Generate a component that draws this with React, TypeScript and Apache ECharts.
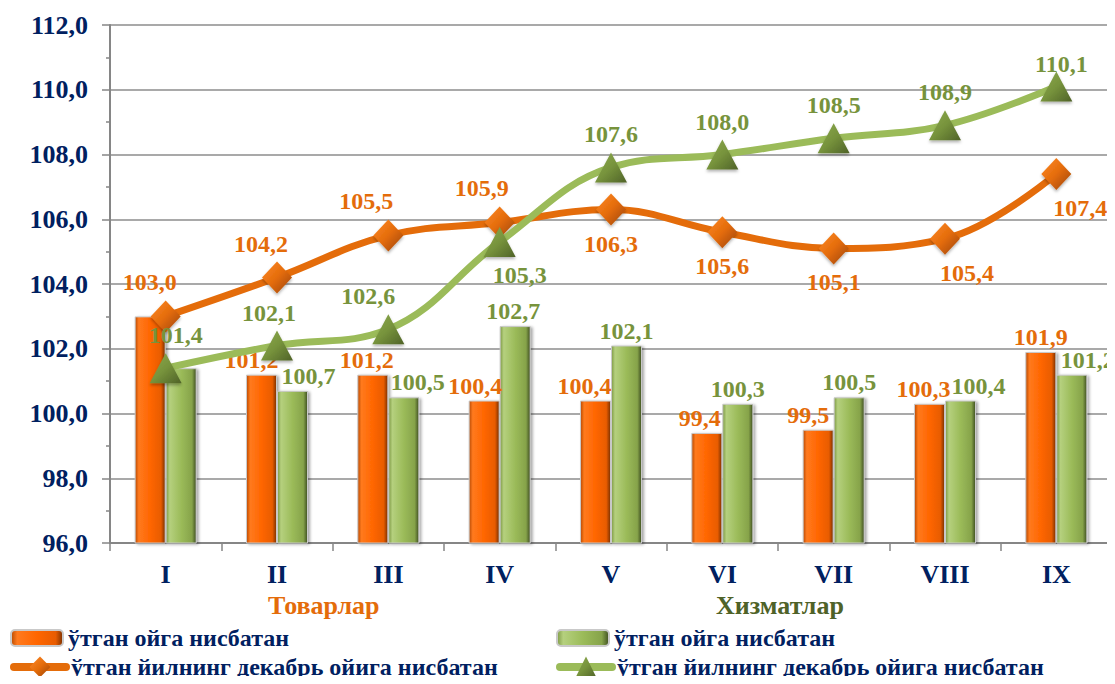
import React, { useEffect, useRef } from "react";
import * as echarts from "echarts";

const categories = ["I", "II", "III", "IV", "V", "VI", "VII", "VIII", "IX"];
const goodsMonthly = [103.0, 101.2, 101.2, 100.4, 100.4, 99.4, 99.5, 100.3, 101.9];
const servicesMonthly = [101.4, 100.7, 100.5, 102.7, 102.1, 100.3, 100.5, 100.4, 101.2];
const goodsDecember = [103.0, 104.2, 105.5, 105.9, 106.3, 105.6, 105.1, 105.4, 107.4];
const servicesDecember = [101.4, 102.1, 102.6, 105.3, 107.6, 108.0, 108.5, 108.9, 110.1];
const yMin = 96;
const yMax = 112;
const yStep = 2;

const groupGoods = "Товарлар";
const groupServices = "Хизматлар";
const nameMonthly = "ўтган ойга нисбатан";
const nameDecember = "ўтган йилнинг декабрь ойига нисбатан";

// label placement (style only)
const goodsBarDx = [0, -10, -6, -9, -11, -7, -10, -6, 0];
const goodsBarShow = [false, true, true, true, true, true, true, true, true];
const servBarDx = [0, 16, 14, -2, 0, 0, 0, 18, 16];
const servBarShow = [false, true, true, true, true, true, true, true, true];
const goodsLinePos = ["top", "top", "top", "top", "bottom", "bottom", "bottom", "bottom", "bottom"];
const goodsLineDx = [-16, -16, -22, -18, 0, 0, 0, 22, 24];
const servLinePos = ["top", "top", "top", "bottom", "top", "top", "top", "top", "top"];
const servLineDx = [10, -8, -20, 20, 0, 0, 0, 0, 5];
const servLineDy = [0, 0, 0, 0, 0, 0, 0, 0, 10];

const FONT = "Liberation Serif, Times New Roman, serif";
const NAVY = "#002060";
const ORANGE_TXT = "#E46C0A";
const GREEN_TXT = "#77933C";

const fmt = (v: number) => v.toFixed(1).replace(".", ",");

const orangeBar = {
  type: "linear", x: 0, y: 0, x2: 1, y2: 0,
  colorStops: [
    { offset: 0, color: "#B84A00" },
    { offset: 0.12, color: "#FF7A1E" },
    { offset: 0.5, color: "#FF6600" },
    { offset: 0.86, color: "#E85C00" },
    { offset: 1, color: "#7A3000" },
  ],
};
const greenBar = {
  type: "linear", x: 0, y: 0, x2: 1, y2: 0,
  colorStops: [
    { offset: 0, color: "#7E9A45" },
    { offset: 0.12, color: "#B5D07E" },
    { offset: 0.5, color: "#9BBB59" },
    { offset: 0.86, color: "#86A34A" },
    { offset: 1, color: "#3F4F20" },
  ],
};
const diamondFill = {
  type: "linear", x: 0, y: 0, x2: 1, y2: 1,
  colorStops: [
    { offset: 0, color: "#FF8A2A" },
    { offset: 0.5, color: "#E46C0A" },
    { offset: 1, color: "#9A4205" },
  ],
};
const triangleFill = {
  type: "linear", x: 0, y: 0, x2: 1, y2: 1,
  colorStops: [
    { offset: 0, color: "#8DAA50" },
    { offset: 0.5, color: "#77933C" },
    { offset: 1, color: "#4F6228" },
  ],
};

const labelBase = { fontFamily: FONT, fontWeight: "bold", fontSize: 24 };

export default function App() {
  const ref = useRef<HTMLDivElement>(null);

  useEffect(() => {
    if (!ref.current) return;
    const chart = echarts.init(ref.current, undefined, { renderer: "svg" });

    const goodsBarData = goodsMonthly.map((v, i) => ({
      value: v,
      label: { show: goodsBarShow[i], offset: [goodsBarDx[i], 0] },
    }));
    const servBarData = servicesMonthly.map((v, i) => ({
      value: v,
      label: { show: servBarShow[i], offset: [servBarDx[i], 0] },
    }));
    const goodsLineData = goodsDecember.map((v, i) => ({
      value: v,
      label: { position: goodsLinePos[i], offset: [goodsLineDx[i], 0] },
    }));
    const servLineData = servicesDecember.map((v, i) => ({
      value: v,
      label: { position: servLinePos[i], offset: [servLineDx[i], servLineDy[i]] },
    }));

    const legendText = { fontFamily: FONT, fontWeight: "bold", fontSize: 24, color: NAVY };
    const legendCommon = {
      padding: 0,
      itemGap: 0,
      textStyle: legendText,
      formatter: (n: string) => n.trim(),
    };

    chart.setOption({
      animation: false,
      backgroundColor: "#ffffff",
      grid: { left: 110, right: 3, top: 25, bottom: 141, containLabel: false },
      graphic: [
        {
          type: "text", left: 268, top: 592,
          style: { text: groupGoods, fill: ORANGE_TXT, font: `bold 26px ${FONT}` },
        },
        {
          type: "text", left: 716, top: 592,
          style: { text: groupServices, fill: "#4F6228", font: `bold 26px ${FONT}` },
        },
      ],
      legend: [
        { ...legendCommon, data: [nameMonthly], left: 10, top: 626, itemWidth: 52, itemHeight: 16 },
        { ...legendCommon, data: [nameMonthly + " "], left: 556, top: 626, itemWidth: 52, itemHeight: 16 },
        {
          ...legendCommon, data: [nameDecember], left: 10, top: 655, itemWidth: 52, itemHeight: 26,
          lineStyle: { width: 8, cap: "round" },
        },
        {
          ...legendCommon, data: [nameDecember + " "], left: 556, top: 655, itemWidth: 52, itemHeight: 26,
          lineStyle: { width: 8, cap: "round" },
        },
      ],
      xAxis: {
        type: "category",
        data: categories,
        boundaryGap: true,
        axisLine: { show: true, lineStyle: { color: "#868686", width: 2 } },
        axisTick: { show: true, length: 8, inside: false, lineStyle: { color: "#868686", width: 1.5 } },
        axisLabel: { color: NAVY, fontFamily: FONT, fontWeight: "bold", fontSize: 26, margin: 18 },
        splitLine: { show: false },
      },
      yAxis: {
        type: "value",
        min: yMin,
        max: yMax,
        interval: yStep,
        axisLine: { show: true, lineStyle: { color: "#868686", width: 2 } },
        axisTick: { show: true, length: 8, lineStyle: { color: "#868686", width: 1.5 } },
        minorTick: { show: true, splitNumber: 2, length: 4, lineStyle: { color: "#868686", width: 1.5 } },
        axisLabel: {
          color: NAVY, fontFamily: FONT, fontWeight: "bold", fontSize: 26, margin: 22,
          formatter: (v: number) => fmt(v),
        },
        splitLine: { show: true, lineStyle: { color: "#8C8C8C", width: 1.5 } },
      },
      series: [
        {
          name: nameMonthly,
          type: "bar",
          data: goodsBarData,
          barWidth: 31,
          barGap: "0%",
          itemStyle: {
            color: orangeBar, borderColor: "#C9C9C9", borderWidth: 1,
            shadowColor: "rgba(0,0,0,0.35)", shadowBlur: 3, shadowOffsetX: 2, shadowOffsetY: 1,
          },
          label: {
            show: true, position: "top", distance: 3, color: ORANGE_TXT, ...labelBase,
            formatter: (p: any) => fmt(p.value),
          },
          z: 2,
        },
        {
          name: nameMonthly + " ",
          type: "bar",
          data: servBarData,
          barWidth: 31,
          barGap: "0%",
          itemStyle: {
            color: greenBar, borderColor: "#C9C9C9", borderWidth: 1,
            shadowColor: "rgba(0,0,0,0.35)", shadowBlur: 3, shadowOffsetX: 2, shadowOffsetY: 1,
          },
          label: {
            show: true, position: "top", distance: 3, color: GREEN_TXT, ...labelBase,
            formatter: (p: any) => fmt(p.value),
          },
          z: 2,
        },
        {
          name: nameDecember,
          type: "line",
          data: goodsLineData,
          smooth: 0.4,
          symbol: "diamond",
          symbolSize: [30, 32],
          lineStyle: { color: "#E46C0A", width: 7 },
          itemStyle: { color: diamondFill, shadowColor: "rgba(0,0,0,0.3)", shadowBlur: 3, shadowOffsetY: 2 },
          label: {
            show: true, distance: 6, color: ORANGE_TXT, ...labelBase,
            formatter: (p: any) => fmt(p.value),
          },
          z: 4,
        },
        {
          name: nameDecember + " ",
          type: "line",
          data: servLineData,
          smooth: 0.4,
          symbol: "triangle",
          symbolSize: [32, 30],
          lineStyle: { color: "#9BBB59", width: 7 },
          itemStyle: { color: triangleFill, shadowColor: "rgba(0,0,0,0.3)", shadowBlur: 3, shadowOffsetY: 2 },
          label: {
            show: true, distance: 6, color: GREEN_TXT, ...labelBase,
            formatter: (p: any) => fmt(p.value),
          },
          z: 5,
        },
      ],
    });

    return () => chart.dispose();
  }, []);

  return <div ref={ref} style={{ width: 1115, height: 684, margin: -8 }} />;
}
